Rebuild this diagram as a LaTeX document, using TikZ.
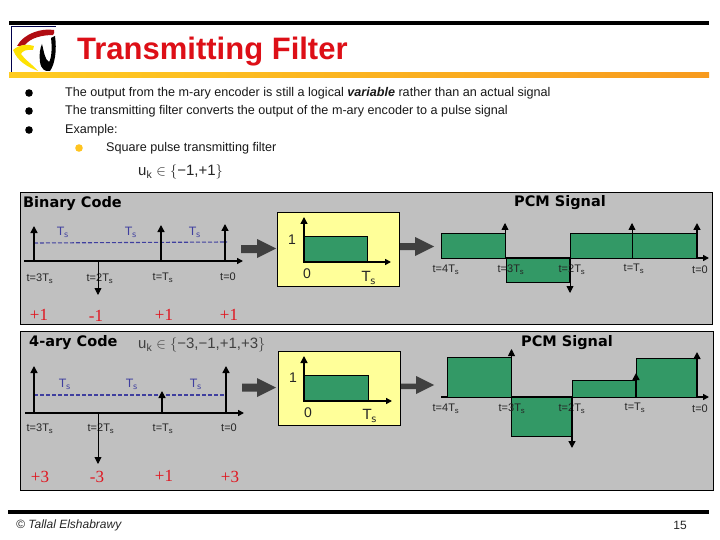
\documentclass[tikz,border=0pt]{standalone}
\usepackage{fontspec}
\setmainfont{Liberation Sans}
\newfontfamily\headfont{DejaVu Sans}
\newfontfamily\valfont{Liberation Serif}
\usetikzlibrary{arrows.meta}
\definecolor{pgray}{HTML}{C0C0C0}
\definecolor{pgreen}{HTML}{339966}
\definecolor{pyellow}{HTML}{FFFF99}
\definecolor{pblue}{HTML}{3F3F9F}
\definecolor{pred}{HTML}{E0141E}
\definecolor{tred}{HTML}{DD0F17}
\definecolor{pdark}{HTML}{404040}
\definecolor{goldb}{HTML}{FFCC22}
\definecolor{orangeb}{HTML}{F79A1E}
\newcommand{\TS}{T\textsubscript{s}}
\tikzset{
  panel/.style={fill=pgray,draw=black,line width=0.9pt},
  ybox/.style={fill=pyellow,draw=black,line width=0.8pt},
  gbar/.style={fill=pgreen,draw=black,line width=0.8pt},
  stem/.style={line width=1.5pt,-{Triangle[length=7pt,width=7pt]}},
  thin stem/.style={line width=0.9pt,-{Triangle[length=7pt,width=7pt]}},
  axisline/.style={line width=1.5pt,-{Triangle[length=6pt,width=6pt]}},
  dash line/.style={pblue,line width=1.1pt,dash pattern=on 4pt off 2pt},
  tlab/.style={font=\fontsize{11}{12}\selectfont,text=black!85,inner sep=0pt},
  tslab/.style={font=\headfont\fontsize{11.5}{12}\selectfont,text=pblue,inner sep=0pt},
  val/.style={font=\valfont\fontsize{17}{18}\selectfont,text=pred,inner sep=0pt},
  head/.style={font=\headfont\bfseries\fontsize{14.5}{16}\selectfont,inner sep=0pt},
  axlab/.style={font=\fontsize{14}{15}\selectfont,text=black!85,inner sep=0pt},
  body/.style={font=\fontsize{12.6}{14}\selectfont,anchor=west,inner sep=0pt,text=black!90},
  blockarrow/.style={fill=pdark,draw=none},
}
\begin{document}
\begin{tikzpicture}[x=1pt,y=-1pt]
\useasboundingbox (0,0) rectangle (720,540);
\fill[white] (0,0) rectangle (720,540);
% header
\fill[black] (9,21) rectangle (709,25);
\draw[black!70!blue,line width=0.6pt] (11.5,73) -- (11.5,26.5) -- (55.5,26.5);
\shade[left color=goldb,right color=orangeb] (9,73) rectangle (709,78);
% logo
\fill[tred!80!black] (17,46) .. controls (24,33) and (42,28) .. (54,30) .. controls (55,32) and (54,34) .. (53,35) .. controls (42,35) and (30,38) .. (25,45) .. controls (22,46) and (19,46) .. (17,46) -- cycle;
\fill[yellow!85!orange] (13,50) .. controls (20,44) and (28,44) .. (34,46) -- (33,50) .. controls (27,49) and (22,51) .. (21,54) .. controls (25,60) and (32,64) .. (38,71) .. controls (28,67) and (18,62) .. (13,50) -- cycle;
\fill[black] (42,44) .. controls (44,52) and (45,60) .. (49,62) .. controls (52,58) and (52,45) .. (51,38) -- (55,36) .. controls (57,50) and (55,64) .. (50,71) .. controls (45,72) and (41,69) .. (40,62) .. controls (39,55) and (40,48) .. (42,44) -- cycle;
\node[font=\bfseries\fontsize{31}{33}\selectfont,text=tred,anchor=base west,inner sep=0pt] (title) at (77,60) {Transmitting Filter};
% bullets
\foreach \n/\y in {a/93,b/111,c/130}{\fill[black] (29,\y) circle (3.8);}
\fill[goldb!90!orange] (79,148) circle (3.8);
\node[body] (l1) at (65,93) {The output from the m-ary encoder is still a logical \textbf{\textit{variable}} rather than an actual signal};
\node[body] (l2) at (65,111) {The transmitting filter converts the output of the m-ary encoder to a pulse signal};
\node[body] (l3) at (65,130) {Example:};
\node[body] (l4) at (106,148) {Square pulse transmitting filter};
\node[anchor=west,inner sep=0pt,font=\fontsize{15}{16}\selectfont,text=black!85] (f1) at (138,172) {u\textsubscript{k} $\in\left\{\mbox{−1,+1}\right\}$};
% panel 1
\draw[panel] (20.5,192.5) rectangle (712,324);
\node[head,anchor=west] (bc) at (23,204) {Binary Code};
\node[head] (pcm1) at (560,203) {PCM Signal};
\node[tslab] at (63,232) {\TS};
\node[tslab] at (131,232) {\TS};
\node[tslab] at (195,232) {\TS};
\draw[dash line] (34,243) -- (227,242);
\coordinate (a1) at (24,261); \coordinate (a1e) at (243,261);
\node[tlab] at (40,279) {t=3\TS};
\node[tlab] at (100,279) {t=2\TS};
\node[tlab] at (163,278) {t=\TS};
\node[tlab] at (228,277) {t=0};
\draw[axisline] (a1) -- (a1e);
\draw[stem] (34,261) -- (34,226);
\draw[thin stem] (98,261) -- (98,295);
\draw[stem] (161,261) -- (161,225);
\draw[stem] (225,261) -- (225,224);
\node[val] at (39,315) {+1};
\node[val] at (96,316) {-1};
\node[val] at (164,315) {+1};
\node[val] at (229,315) {+1};
\fill[blockarrow] (241,245) -- (257,245) -- (257,239) -- (276,248.5) -- (257,258) -- (257,253) -- (241,253) -- cycle;
% yellow box 1
\draw[ybox] (277.5,212) rectangle (399.5,286);
\draw[gbar] (304,236) rectangle (367.5,262);
\draw[axisline] (303,262) -- (391,262);
\draw[stem] (304,262) -- (304,217);
\node[axlab] at (292,240) {1};
\node[axlab] at (307,274) {0};
\node[axlab,font=\headfont\fontsize{14}{15}\selectfont] at (369,278) {\TS};
\fill[blockarrow] (400,243) -- (415,243) -- (415,237) -- (434,246.5) -- (415,256) -- (415,250) -- (400,250) -- cycle;
% PCM 1
\draw[gbar] (441.5,233.5) rectangle (505,258.5);
\draw[gbar] (506,258.5) rectangle (569,282.5);
\draw[gbar] (570.5,233.5) rectangle (632,258.5);
\draw[gbar] (632,233.5) rectangle (697,258.5);
\node[tlab] at (446,270) {t=4\TS};
\node[tlab] at (511,270) {t=3\TS};
\node[tlab] at (572,270) {t=2\TS};
\node[tlab] at (634,269) {t=\TS};
\node[tlab] at (700,270) {t=0};
\draw[line width=1.3pt] (505,258) -- (570,258);
\draw[axisline] (696,258) -- (709,258);
\draw[thin stem] (505,258) -- (505,223);
\draw[thin stem] (570,258) -- (570,293);
\draw[thin stem] (632,258) -- (632,223);
\draw[stem] (697,258) -- (697,223);
% panel 2
\draw[panel] (20.5,331.5) rectangle (713.5,490);
\node[head,anchor=west] (fc) at (29,343) {4-ary Code};
\node[head] (pcm2) at (567,343) {PCM Signal};
\node[anchor=west,inner sep=0pt,font=\fontsize{15}{16}\selectfont,text=black!75] (f2) at (138,345) {u\textsubscript{k} $\in\left\{\mbox{−3,−1,+1,+3}\right\}$};
\node[tslab] at (65,384) {\TS};
\node[tslab] at (132,384) {\TS};
\node[tslab] at (196,384) {\TS};
\draw[dash line] (34,395) -- (227,395);
\coordinate (a2) at (25,413); \coordinate (a2e) at (244,413);
\node[tlab] at (40,429) {t=3\TS};
\node[tlab] at (101,429) {t=2\TS};
\node[tlab] at (163,429) {t=\TS};
\node[tlab] at (229,428) {t=0};
\draw[axisline] (a2) -- (a2e);
\draw[stem] (34,413) -- (34,366);
\draw[thin stem] (98,413) -- (98,464);
\draw[stem] (162,413) -- (162,391);
\draw[stem] (226,413) -- (226,366);
\node[val] at (40,477) {+3};
\node[val] at (97,477) {-3};
\node[val] at (164,476) {+1};
\node[val] at (230,477) {+3};
\fill[blockarrow] (242,383.5) -- (257,383.5) -- (257,378) -- (276,387.5) -- (257,397) -- (257,391.5) -- (242,391.5) -- cycle;
% yellow box 2
\draw[ybox] (278.5,351) rectangle (400.5,425);
\draw[gbar] (304,375.5) rectangle (368.5,401);
\draw[axisline] (303,401) -- (392,401);
\draw[stem] (304,401) -- (304,356);
\node[axlab] at (293,378) {1};
\node[axlab] at (308,413) {0};
\node[axlab,font=\headfont\fontsize{14}{15}\selectfont] at (370,416) {\TS};
\fill[blockarrow] (401,383.5) -- (416,383.5) -- (416,376) -- (434,385) -- (416,394) -- (416,389) -- (401,389) -- cycle;
% PCM 2
\draw[gbar] (447,357.5) rectangle (511.5,397);
\draw[gbar] (511.5,397) rectangle (572,436.5);
\draw[gbar] (572,380.5) rectangle (636,397);
\draw[gbar] (636.5,358.5) rectangle (697,397);
\node[tlab] at (446,409) {t=4\TS};
\node[tlab] at (512,409) {t=3\TS};
\node[tlab] at (572,409) {t=2\TS};
\node[tlab] at (635,408) {t=\TS};
\node[tlab] at (700,409) {t=0};
\draw[line width=1.3pt] (441,397) -- (447,397);
\draw[line width=1.3pt] (511,397) -- (572,397);
\draw[axisline] (696,397) -- (709,397);
\draw[thin stem] (511.5,397) -- (511.5,349);
\draw[stem] (572,397) -- (572,448);
\draw[stem] (636,397) -- (636,373);
\draw[stem] (697,397) -- (697,352);
% footer
\fill[black] (8,510) rectangle (709,514);
\node[anchor=west,inner sep=0pt,font=\itshape\fontsize{12}{13}\selectfont,text=black!85] (copy) at (16,525) {© Tallal Elshabrawy};
\node[anchor=center,inner sep=0pt,font=\fontsize{12}{13}\selectfont,text=black!85] (pg) at (680,525) {15};
\end{tikzpicture}
\end{document}
